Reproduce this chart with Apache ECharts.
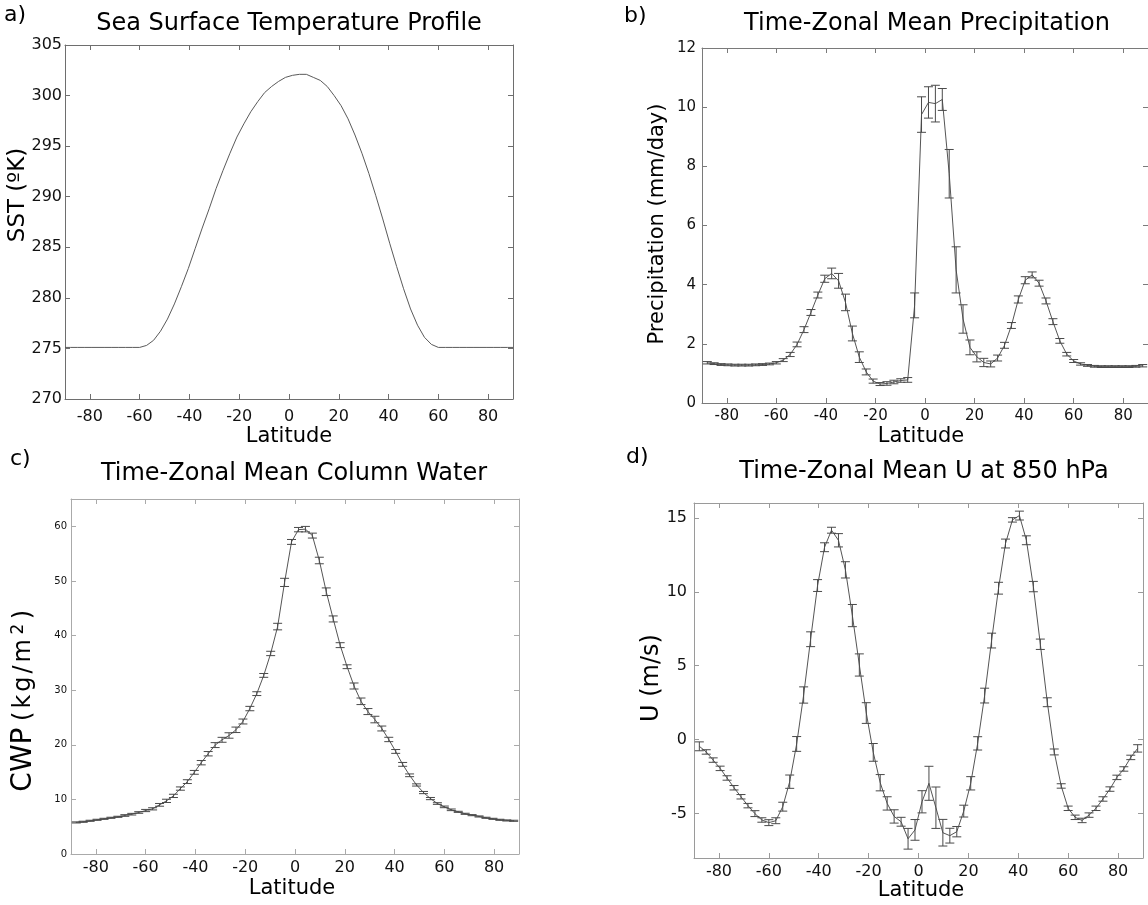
<!DOCTYPE html>
<html><head><meta charset="utf-8">
<script src="https://cdn.jsdelivr.net/npm/echarts@6/dist/echarts.min.js"></script>
<style>html,body{margin:0;padding:0;background:#fff}#c{width:1148px;height:905px}</style>
</head><body><div id="c"></div>
<script>
// ---------------- data ----------------
const lat = [-87.86,-85.10,-82.31,-79.53,-76.74,-73.95,-71.16,-68.37,-65.58,-62.79,-60.00,-57.21,-54.42,-51.63,-48.84,-46.04,-43.25,-40.46,-37.67,-34.88,-32.09,-29.30,-26.51,-23.72,-20.93,-18.14,-15.35,-12.56,-9.77,-6.98,-4.19,-1.40,
             1.40,4.19,6.98,9.77,12.56,15.35,18.14,20.93,23.72,26.51,29.30,32.09,34.88,37.67,40.46,43.25,46.04,48.84,51.63,54.42,57.21,60.00,62.79,65.58,68.37,71.16,73.95,76.74,79.53,82.31,85.10,87.86];

const sstLat = [-90,-87.86,-85.10,-82.31,-79.53,-76.74,-73.95,-71.16,-68.37,-65.58,-62.79,-60.00,-57.21,-54.42,-51.63,-48.84,-46.04,-43.25,-40.46,-37.67,-34.88,-32.09,-29.30,-26.51,-23.72,-20.93,-18.14,-15.35,-12.56,-9.77,-6.98,-4.19,-1.40,
             1.40,4.19,6.98,9.77,12.56,15.35,18.14,20.93,23.72,26.51,29.30,32.09,34.88,37.67,40.46,43.25,46.04,48.84,51.63,54.42,57.21,60.00,62.79,65.58,68.37,71.16,73.95,76.74,79.53,82.31,85.10,87.86,90];
const sst = [275.1,275.1,275.1,275.1,275.1,275.1,275.1,275.1,275.1,275.1,275.1,275.1,275.3,275.8,276.7,277.9,279.4,281.1,282.9,284.9,286.9,288.8,290.8,292.6,294.3,295.9,297.2,298.4,299.4,300.3,300.9,301.4,301.8,
             302.0,302.1,302.1,301.8,301.5,300.9,300.0,299.0,297.7,296.1,294.3,292.3,290.1,287.8,285.4,283.1,280.9,278.9,277.3,276.1,275.4,275.1,275.1,275.1,275.1,275.1,275.1,275.1,275.1,275.1,275.1,275.1,275.1];

const precip = [1.36,1.33,1.30,1.29,1.28,1.28,1.28,1.29,1.30,1.32,1.36,1.45,1.64,1.98,2.48,3.06,3.65,4.20,4.38,4.13,3.40,2.35,1.55,1.05,0.74,0.64,0.66,0.71,0.76,0.78,3.30,9.75,
                10.16,10.12,10.26,7.75,4.50,2.84,1.88,1.56,1.37,1.32,1.52,1.95,2.62,3.50,4.15,4.33,4.05,3.45,2.75,2.10,1.65,1.42,1.32,1.27,1.24,1.23,1.23,1.23,1.23,1.23,1.24,1.26];
const precipErr = [0.04,0.03,0.03,0.03,0.03,0.03,0.03,0.03,0.03,0.03,0.04,0.05,0.07,0.08,0.10,0.10,0.10,0.12,0.18,0.25,0.28,0.25,0.18,0.10,0.07,0.05,0.06,0.06,0.06,0.08,0.42,0.60,
                   0.53,0.62,0.37,0.82,0.78,0.48,0.25,0.17,0.14,0.10,0.10,0.10,0.10,0.12,0.12,0.10,0.10,0.10,0.10,0.08,0.06,0.05,0.04,0.03,0.03,0.03,0.03,0.03,0.03,0.03,0.03,0.04];

const cwp = [5.78,5.90,6.08,6.26,6.44,6.63,6.81,7.05,7.29,7.60,7.96,8.27,9.00,9.73,10.64,11.98,13.25,14.95,16.72,18.36,19.94,20.91,21.70,22.74,24.26,26.63,29.36,32.70,36.72,41.64,49.73,57.14,
             59.39,59.48,58.30,53.74,48.02,43.04,38.24,34.29,30.76,27.96,26.08,24.62,22.98,20.97,18.78,16.41,14.41,12.64,11.25,10.15,9.24,8.63,8.09,7.72,7.36,7.11,6.87,6.63,6.44,6.26,6.14,6.08];
const cwpErr = [0.10,0.10,0.10,0.10,0.10,0.10,0.10,0.15,0.15,0.15,0.20,0.20,0.25,0.30,0.30,0.30,0.35,0.35,0.40,0.40,0.45,0.45,0.50,0.50,0.45,0.40,0.35,0.35,0.40,0.60,0.75,0.45,
                0.40,0.50,0.45,0.60,0.70,0.55,0.45,0.35,0.55,0.60,0.55,0.60,0.45,0.40,0.35,0.35,0.25,0.20,0.20,0.20,0.15,0.15,0.15,0.10,0.10,0.10,0.10,0.10,0.10,0.10,0.10,0.10];

const u850 = [-0.45,-0.83,-1.38,-1.94,-2.59,-3.25,-3.86,-4.46,-5.00,-5.43,-5.61,-5.48,-4.53,-2.84,-0.29,3.02,6.79,10.42,13.01,14.16,13.48,11.48,8.39,5.05,1.80,-0.86,-2.91,-4.31,-5.19,-5.55,-6.70,-6.10,
              -4.20,-2.95,-4.60,-6.29,-6.49,-6.22,-4.83,-2.95,-0.25,2.98,6.70,10.24,13.26,14.86,15.15,13.48,10.35,6.45,2.53,-0.83,-3.13,-4.64,-5.25,-5.46,-5.10,-4.64,-4.01,-3.34,-2.55,-1.98,-1.20,-0.59];
const uErr = [0.30,0.15,0.15,0.15,0.15,0.15,0.15,0.15,0.20,0.15,0.20,0.20,0.30,0.45,0.50,0.55,0.50,0.40,0.30,0.20,0.45,0.55,0.75,0.75,0.70,0.60,0.55,0.45,0.45,0.30,0.70,0.70,
              0.75,1.15,1.40,0.90,0.50,0.35,0.40,0.45,0.45,0.50,0.50,0.40,0.30,0.15,0.30,0.30,0.35,0.35,0.30,0.20,0.15,0.15,0.15,0.15,0.15,0.15,0.15,0.15,0.15,0.15,0.15,0.25];

const xTicks = [-80,-60,-40,-20,0,20,40,60,80];
const yTicksA = [270,275,280,285,290,295,300,305];
const yTicksB = [0,2,4,6,8,10,12];
const yTicksC = [0,10,20,30,40,50,60];
const yTicksD = [-5,0,5,10,15];

// ---------------- layout ----------------
const FONT = 'DejaVu Sans';
const chart = echarts.init(document.getElementById('c'), null, {renderer:'canvas'});

const panels = [
  {grid:{left:65, top:45, width:448, height:354}, ymin:270, ymax:305, yt:yTicksA, color:'#6e6e6e', xfs:16, xm:10, yfs:16, ym:3},
  {grid:{left:702, top:48, width:449, height:355}, ymin:0, ymax:12, yt:yTicksB, color:'#7a7a7a', xfs:15, xm:6, yfs:15, ym:6},
  {grid:{left:71, top:499, width:448, height:355}, ymin:0, ymax:65, yt:yTicksC, color:'#aaaaaa', xfs:16, xm:6, yfs:10, ym:4},
  {grid:{left:694, top:503, width:449, height:355}, ymin:-8, ymax:16, yt:yTicksD, color:'#9a9a9a', xfs:16, xm:6, yfs:16, ym:7}
];

const grids = [], xAxis = [], yAxis = [];
panels.forEach((p, i) => {
  grids.push(Object.assign({show:false, containLabel:false}, p.grid));
  const lineC = {show:true, onZero:false, lineStyle:{color:p.color, width:1}};
  const tickX = {show:true, inside:true, length:5, customValues:xTicks, lineStyle:{color:p.color}};
  const tickY = {show:true, inside:true, length:5, customValues:p.yt, lineStyle:{color:p.color}};
  xAxis.push({gridIndex:i, type:'value', min:-90, max:90, position:'bottom', splitLine:{show:false},
    axisLine:lineC, axisTick:tickX,
    axisLabel:{show:true, customValues:xTicks, fontSize:p.xfs, fontFamily:FONT, color:'#111', margin:p.xm}});
  xAxis.push({gridIndex:i, type:'value', min:-90, max:90, position:'top', splitLine:{show:false},
    axisLine:lineC, axisTick:tickX, axisLabel:{show:false}});
  yAxis.push({gridIndex:i, type:'value', min:p.ymin, max:p.ymax, position:'left', splitLine:{show:false},
    axisLine:lineC, axisTick:tickY,
    axisLabel:{show:true, customValues:p.yt, fontSize:p.yfs, fontFamily:FONT, color:'#111', margin:p.ym}});
  yAxis.push({gridIndex:i, type:'value', min:p.ymin, max:p.ymax, position:'right', splitLine:{show:false},
    axisLine:lineC, axisTick:tickY, axisLabel:{show:false}});
});

function pairs(xs, ys){ return xs.map((x, i) => [x, ys[i]]); }
function errs(xs, ys, es){ return xs.map((x, i) => [x, ys[i] - es[i], ys[i] + es[i]]); }

function errRender(params, api){
  const x = api.value(0), lo = api.value(1), hi = api.value(2);
  const p1 = api.coord([x, hi]), p2 = api.coord([x, lo]);
  const w = 4.5;
  const st = {stroke:'#4a4a4a', lineWidth:1};
  return {type:'group', children:[
    {type:'line', shape:{x1:p1[0], y1:p1[1], x2:p2[0], y2:p2[1]}, style:st},
    {type:'line', shape:{x1:p1[0]-w, y1:p1[1], x2:p1[0]+w, y2:p1[1]}, style:st},
    {type:'line', shape:{x1:p2[0]-w, y1:p2[1], x2:p2[0]+w, y2:p2[1]}, style:st}
  ]};
}

function lineSeries(i, data, color){
  return {type:'line', xAxisIndex:2*i, yAxisIndex:2*i, data, showSymbol:false, symbol:'none',
    lineStyle:{color:color || '#555', width:1}, animation:false, z:3};
}
function errSeries(i, data){
  return {type:'custom', xAxisIndex:2*i, yAxisIndex:2*i, data, renderItem:errRender,
    encode:{x:0, y:[1,2]}, animation:false, z:4};
}

const series = [
  lineSeries(0, pairs(sstLat, sst), '#5a5a5a'),
  lineSeries(1, pairs(lat, precip)), errSeries(1, errs(lat, precip, precipErr)),
  lineSeries(2, pairs(lat, cwp)), errSeries(2, errs(lat, cwp, cwpErr)),
  lineSeries(3, pairs(lat, u850)), errSeries(3, errs(lat, u850, uErr))
];

function txt(x, y, text, fs, opts){
  return Object.assign({type:'text', x, y, z:10,
    style:Object.assign({text, fontSize:fs, fontFamily:FONT, fill:'#000', align:'center', verticalAlign:'middle'}, (opts && opts.style) || {})},
    (opts && opts.extra) || {});
}
const rot = Math.PI/2;
const sp = {fontSize:24, fontFamily:FONT, fill:'#000', padding:[0,1.5,0,1.5]};
const graphic = [
  txt(4, 15, 'a)', 22, {style:{align:'left'}}),
  txt(624, 16, 'b)', 22, {style:{align:'left'}}),
  txt(10, 459, 'c)', 22, {style:{align:'left'}}),
  txt(626, 457, 'd)', 22, {style:{align:'left'}}),
  txt(289, 24, 'Sea Surface Temperature Profile', 24),
  txt(927, 24, 'Time-Zonal Mean Precipitation', 24),
  txt(294, 474, 'Time-Zonal Mean Column Water', 24),
  txt(924, 472, 'Time-Zonal Mean U at 850 hPa', 24),
  txt(289, 437, 'Latitude', 21),
  txt(921, 437, 'Latitude', 21),
  txt(292, 889, 'Latitude', 21),
  txt(921, 891, 'Latitude', 21),
  txt(18, 195, 'SST (ºK)', 23, {extra:{rotation:rot}}),
  txt(658, 224, 'Precipitation (mm/day)', 21, {extra:{rotation:rot}}),
  txt(652, 678, 'U (m/s)', 24, {extra:{rotation:rot}}),
  {type:'text', x:24, y:700, rotation:rot, z:10,
   style:{text:'{a|CWP}{g| }{b|(}{b|k}{b|g}{b|/}{b|m}{s|2}{b|)}', align:'center', verticalAlign:'middle', fill:'#000',
     rich:{a:{fontSize:28, fontFamily:FONT, fill:'#000'},
           g:{fontSize:16, fontFamily:FONT, fill:'#000'},
           b:sp,
           s:{fontSize:17, fontFamily:FONT, fill:'#000', verticalAlign:'top', padding:[0,3,10,3]}}}}
];

chart.setOption({animation:false, backgroundColor:'#fff', grid:grids, xAxis, yAxis, series, graphic});
</script></body></html>
